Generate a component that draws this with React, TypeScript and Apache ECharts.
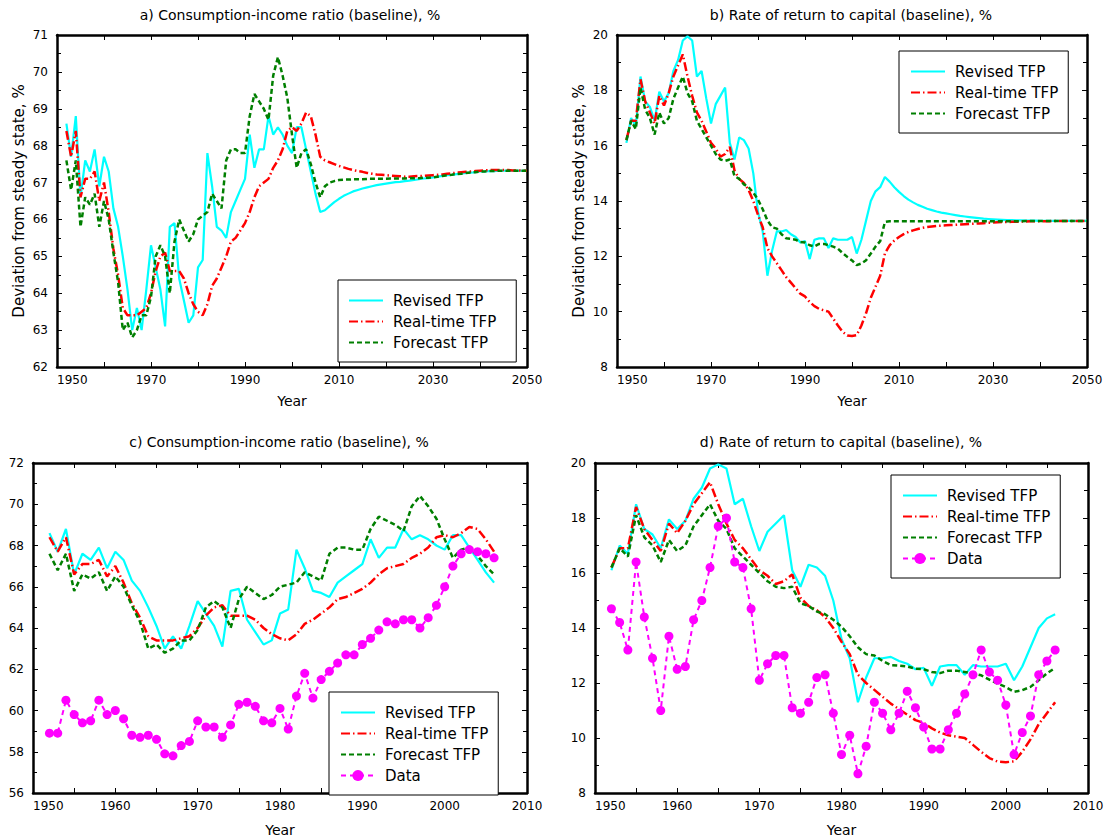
import React, { useEffect, useRef } from "react";
import * as echarts from "echarts";

// ---------- data ----------
const START_YEAR = 1952; // first observation; historical series run to 2006, projections 2007-2050

// Consumption-income ratio, 1952-2006
const revisedCI = [68.6, 67.7, 68.8, 66.6, 67.6, 67.3, 67.9, 66.9, 67.7, 67.3,
  66.3, 65.8, 65.0, 64.1, 63.0, 63.6, 63.0, 64.1, 65.3, 64.7,
  64.1, 63.1, 65.8, 65.9, 64.4, 63.8, 63.2, 63.4, 64.7, 64.9,
  67.8, 66.9, 65.8, 65.7, 65.5, 66.2, 66.5, 66.8, 67.1, 68.3,
  67.4, 67.9, 67.9, 68.8, 68.3, 68.5, 68.3, 68.0, 67.8, 68.5,
  68.5, 67.9, 67.3, 66.7, 66.2];
const realtimeCI = [68.4, 67.7, 68.4, 66.6, 67.1, 67.1, 67.3, 66.5, 67.0, 66.2,
  65.2, 64.5, 63.6, 63.4, 63.4, 63.4, 63.5, 63.6, 64.0, 64.6,
  65.0, 65.1, 64.6, 64.6, 64.6, 64.4, 64.0, 63.7, 63.5, 63.4,
  63.7, 64.2, 64.4, 64.7, 65.0, 65.4, 65.5, 65.7, 65.9, 66.2,
  66.6, 66.9, 67.0, 67.1, 67.4, 67.6, 67.9, 68.4, 68.5, 68.4,
  68.6, 68.9, 68.8, 68.3, 67.7];
const forecastCI = [67.6, 66.8, 67.6, 65.8, 66.6, 66.4, 66.7, 65.8, 66.5, 66.0,
  65.1, 64.3, 63.0, 63.2, 62.8, 63.0, 63.4, 63.4, 63.9, 65.0,
  65.3, 65.0, 64.0, 65.4, 66.0, 65.7, 65.4, 65.6, 66.0, 66.1,
  66.2, 66.7, 66.5, 66.3, 67.6, 67.9, 67.9, 67.8, 67.8, 68.8,
  69.4, 69.2, 69.0, 68.7, 69.9, 70.4, 69.9, 69.3, 68.3, 67.4,
  67.8, 67.9, 67.5, 67.0, 66.6];
const dataCI = [58.9, 58.9, 60.5, 59.8, 59.4, 59.5, 60.5, 59.8, 60.0, 59.6,
  58.8, 58.7, 58.8, 58.6, 57.9, 57.8, 58.3, 58.5, 59.5, 59.2,
  59.2, 58.7, 59.3, 60.3, 60.4, 60.2, 59.5, 59.4, 60.1, 59.1,
  60.7, 61.8, 60.6, 61.5, 61.9, 62.3, 62.7, 62.7, 63.2, 63.5,
  63.9, 64.3, 64.2, 64.4, 64.4, 64.0, 64.5, 65.1, 66.0, 67.0,
  67.6, 67.8, 67.7, 67.6, 67.4];

// Consumption-income ratio projections, 2007-2050
const revisedCIProj = [66.25, 66.36, 66.47, 66.56, 66.64, 66.70, 66.76, 66.80, 66.84, 66.87,
  66.90, 66.93, 66.95, 66.97, 66.99, 67.01, 67.02, 67.04, 67.05, 67.07,
  67.09, 67.11, 67.12, 67.14, 67.16, 67.18, 67.20, 67.21, 67.23, 67.24,
  67.26, 67.27, 67.28, 67.30, 67.30, 67.31, 67.31, 67.32, 67.32, 67.32,
  67.32, 67.32, 67.32, 67.32];
const realtimeCIProj = [67.60, 67.55, 67.50, 67.45, 67.41, 67.37, 67.34, 67.31, 67.29, 67.26,
  67.24, 67.22, 67.21, 67.20, 67.19, 67.18, 67.17, 67.16, 67.16, 67.17,
  67.18, 67.18, 67.19, 67.20, 67.21, 67.22, 67.24, 67.25, 67.27, 67.28,
  67.29, 67.30, 67.31, 67.32, 67.33, 67.34, 67.34, 67.34, 67.34, 67.34,
  67.33, 67.33, 67.32, 67.32];
const forecastCIProj = [66.90, 67.00, 67.04, 67.07, 67.08, 67.08, 67.09, 67.09, 67.09, 67.10,
  67.10, 67.10, 67.10, 67.10, 67.11, 67.11, 67.11, 67.11, 67.12, 67.12,
  67.12, 67.13, 67.13, 67.14, 67.16, 67.18, 67.20, 67.21, 67.23, 67.24,
  67.26, 67.27, 67.28, 67.30, 67.30, 67.31, 67.31, 67.32, 67.32, 67.32,
  67.32, 67.32, 67.32, 67.32];

// Rate of return to capital, 1952-2006
const revisedRR = [16.1, 17.0, 16.7, 18.5, 17.6, 17.4, 16.9, 17.95, 17.6, 17.9,
  18.7, 19.1, 19.8, 19.95, 19.8, 18.5, 18.7, 17.7, 16.8, 17.5,
  17.8, 18.1, 16.1, 15.5, 16.3, 16.2, 15.9, 15.0, 13.6, 12.9,
  11.3, 12.2, 12.9, 12.9, 12.95, 12.8, 12.7, 12.5, 12.55, 11.9,
  12.6, 12.65, 12.65, 12.3, 12.65, 12.6, 12.6, 12.6, 12.7, 12.1,
  12.6, 13.3, 14.0, 14.35, 14.5];
const realtimeRR = [16.2, 16.9, 16.9, 18.4, 17.6, 17.2, 16.8, 17.8, 17.45, 17.9,
  18.5, 18.9, 19.3, 18.5, 17.8, 17.2, 16.9, 16.5, 16.1, 15.9,
  15.6, 15.7, 15.95, 15.1, 14.8, 14.65, 14.4, 14.0, 13.5, 13.05,
  12.3, 12.0, 11.75, 11.5, 11.25, 11.05, 10.85, 10.65, 10.55, 10.35,
  10.2, 10.1, 10.05, 10.0, 9.75, 9.5, 9.27, 9.14, 9.12, 9.15,
  9.5, 9.95, 10.5, 10.9, 11.3];
const forecastRR = [16.2, 16.9, 16.6, 18.1, 17.3, 17.0, 16.4, 17.2, 16.8, 17.0,
  17.7, 18.1, 18.5, 17.9, 17.6, 16.9, 16.6, 16.3, 16.0, 15.7,
  15.5, 15.45, 15.5, 14.9, 14.8, 14.6, 14.5, 14.3, 14.05, 13.7,
  13.3, 13.05, 13.0, 12.8, 12.65, 12.63, 12.6, 12.52, 12.5, 12.4,
  12.36, 12.45, 12.45, 12.4, 12.35, 12.28, 12.12, 11.98, 11.85, 11.68,
  11.74, 11.86, 12.1, 12.35, 12.55];
const dataRR = [14.7, 14.2, 13.2, 16.4, 14.4, 12.9, 11.0, 13.7, 12.5, 12.6,
  14.3, 15.0, 16.2, 17.7, 18.0, 16.4, 16.2, 14.7, 12.1, 12.7,
  13.0, 13.0, 11.1, 10.9, 11.3, 12.2, 12.3, 10.9, 9.4, 10.1,
  8.7, 9.7, 11.3, 10.9, 10.3, 10.9, 11.7, 11.1, 10.4, 9.6,
  9.6, 10.3, 10.9, 11.6, 12.3, 13.2, 12.4, 12.1, 11.2, 9.4,
  10.2, 10.8, 12.3, 12.8, 13.2];

// Rate of return projections, 2007-2050
const revisedRRProj = [14.87, 14.70, 14.50, 14.33, 14.18, 14.05, 13.95, 13.86, 13.79, 13.72,
  13.67, 13.62, 13.58, 13.55, 13.52, 13.49, 13.46, 13.44, 13.42, 13.40,
  13.38, 13.36, 13.35, 13.34, 13.33, 13.32, 13.31, 13.31, 13.30, 13.30,
  13.29, 13.29, 13.29, 13.28, 13.28, 13.28, 13.28, 13.28, 13.28, 13.28,
  13.28, 13.28, 13.28, 13.28];
const realtimeRRProj = [12.10, 12.40, 12.57, 12.70, 12.80, 12.88, 12.94, 12.99, 13.03, 13.06,
  13.08, 13.10, 13.11, 13.12, 13.13, 13.14, 13.15, 13.16, 13.17, 13.18,
  13.19, 13.20, 13.21, 13.22, 13.23, 13.24, 13.24, 13.25, 13.25, 13.26,
  13.26, 13.27, 13.27, 13.27, 13.27, 13.27, 13.28, 13.28, 13.28, 13.28,
  13.28, 13.28, 13.28, 13.28];
const forecastRRProj = [13.24, 13.27, 13.27, 13.27, 13.27, 13.27, 13.27, 13.27, 13.27, 13.27,
  13.27, 13.27, 13.27, 13.27, 13.27, 13.27, 13.27, 13.27, 13.27, 13.27,
  13.27, 13.27, 13.27, 13.27, 13.27, 13.27, 13.27, 13.27, 13.27, 13.27,
  13.28, 13.28, 13.28, 13.28, 13.28, 13.28, 13.28, 13.28, 13.28, 13.28,
  13.28, 13.28, 13.28, 13.28];

const TITLES = [
  "a) Consumption-income ratio (baseline), %",
  "b) Rate of return to capital (baseline), %",
  "c) Consumption-income ratio (baseline), %",
  "d) Rate of return to capital (baseline), %",
];
const SERIES_NAMES = ["Revised TFP", "Real-time TFP", "Forecast TFP", "Data"];
const Y_NAME = "Deviation from steady state, %";
const X_NAME = "Year";

// ---------- styling ----------
const FONT = "DejaVu Sans";
const CYAN = "#00ffff";
const RED = "#ff0000";
const GREEN = "#007f00";
const MAGENTA = "#ff00ff";

const pairs = (vals: number[]) => vals.map((v, i) => [START_YEAR + i, v]);

type Panel = {
  grid: { left: number; top: number; width: number; height: number };
  xMin: number; xMax: number; xInt: number; xLabelEvery: number;
  yMin: number; yMax: number; yInt: number;
  yName: boolean; xNameGap: number;
  legend: { left: number; top: number; padLeft: number; padRight: number };
  series: { revised: number[]; realtime: number[]; forecast: number[]; data?: number[] };
  title: { x: number; y: number };
};

const panels: Panel[] = [
  {
    grid: { left: 57, top: 35, width: 470, height: 332 },
    xMin: 1950, xMax: 2050, xInt: 10, xLabelEvery: 20,
    yMin: 62, yMax: 71, yInt: 1, yName: true, xNameGap: 27,
    legend: { left: 338, top: 280, padLeft: 10, padRight: 20 },
    series: {
      revised: [...revisedCI, ...revisedCIProj],
      realtime: [...realtimeCI, ...realtimeCIProj],
      forecast: [...forecastCI, ...forecastCIProj],
    },
    title: { x: 290, y: 15 },
  },
  {
    grid: { left: 617, top: 35, width: 470, height: 332 },
    xMin: 1950, xMax: 2050, xInt: 10, xLabelEvery: 20,
    yMin: 8, yMax: 20, yInt: 2, yName: true, xNameGap: 27,
    legend: { left: 899, top: 51, padLeft: 11, padRight: 10 },
    series: {
      revised: [...revisedRR, ...revisedRRProj],
      realtime: [...realtimeRR, ...realtimeRRProj],
      forecast: [...forecastRR, ...forecastRRProj],
    },
    title: { x: 851, y: 15 },
  },
  {
    grid: { left: 33, top: 463, width: 494, height: 330 },
    xMin: 1950, xMax: 2010, xInt: 5, xLabelEvery: 10,
    yMin: 56, yMax: 72, yInt: 2, yName: false, xNameGap: 30,
    legend: { left: 329, top: 692, padLeft: 11, padRight: 10 },
    series: { revised: revisedCI, realtime: realtimeCI, forecast: forecastCI, data: dataCI },
    title: { x: 279, y: 442 },
  },
  {
    grid: { left: 595, top: 463, width: 493, height: 330 },
    xMin: 1950, xMax: 2010, xInt: 5, xLabelEvery: 10,
    yMin: 8, yMax: 20, yInt: 2, yName: false, xNameGap: 30,
    legend: { left: 891, top: 475, padLeft: 11, padRight: 10 },
    series: { revised: revisedRR, realtime: realtimeRR, forecast: forecastRR, data: dataRR },
    title: { x: 841, y: 442 },
  },
];

function buildOption() {
  const grid: any[] = [];
  const xAxis: any[] = [];
  const yAxis: any[] = [];
  const series: any[] = [];
  const legend: any[] = [];
  const graphic: any[] = [];

  const frameLine = { show: true, onZero: false, lineStyle: { color: "#000", width: 2.5 } };
  const tick = { show: true, inside: true, length: 5, lineStyle: { color: "#000", width: 1 } };
  const minor = { show: true, splitNumber: 2, length: 4, lineStyle: { color: "#000", width: 1 } };
  const labelStyle = { color: "#000", fontFamily: FONT, fontSize: 12 };

  panels.forEach((p, i) => {
    grid.push({ ...p.grid, containLabel: false });
    const every = p.xLabelEvery;
    const x0 = p.xMin;
    xAxis.push({
      gridIndex: i, type: "value", position: "bottom", min: p.xMin, max: p.xMax, interval: p.xInt,
      axisLine: frameLine, axisTick: tick, splitLine: { show: false },
      axisLabel: {
        ...labelStyle, margin: 7, alignMinLabel: "left",
        formatter: (v: number) => ((v - x0) % every === 0 ? String(v) : ""),
      },
      name: X_NAME, nameLocation: "middle", nameGap: p.xNameGap,
      nameTextStyle: { color: "#000", fontFamily: FONT, fontSize: 14 },
    });
    xAxis.push({
      gridIndex: i, type: "value", position: "top", min: p.xMin, max: p.xMax, interval: p.xInt,
      axisLine: frameLine, axisTick: tick, splitLine: { show: false }, axisLabel: { show: false },
    });
    yAxis.push({
      gridIndex: i, type: "value", position: "left", min: p.yMin, max: p.yMax, interval: p.yInt,
      axisLine: frameLine, axisTick: tick, minorTick: minor, splitLine: { show: false },
      minorSplitLine: { show: false },
      axisLabel: { ...labelStyle, margin: 9 },
      ...(p.yName
        ? {
            name: Y_NAME, nameLocation: "middle", nameGap: 31,
            nameTextStyle: { color: "#000", fontFamily: FONT, fontSize: 15 },
          }
        : {}),
    });
    yAxis.push({
      gridIndex: i, type: "value", position: "right", min: p.yMin, max: p.yMax, interval: p.yInt,
      axisLine: frameLine, axisTick: tick, minorTick: minor, splitLine: { show: false },
      minorSplitLine: { show: false }, axisLabel: { show: false },
    });

    const xi = i * 2;
    const yi = i * 2;
    series.push({
      name: SERIES_NAMES[0], type: "line", xAxisIndex: xi, yAxisIndex: yi,
      data: pairs(p.series.revised), symbol: "none",
      lineStyle: { color: CYAN, width: 2.2 }, itemStyle: { color: CYAN },
    });
    series.push({
      name: SERIES_NAMES[1], type: "line", xAxisIndex: xi, yAxisIndex: yi,
      data: pairs(p.series.realtime), symbol: "none",
      lineStyle: { color: RED, width: 2.5, type: [9, 3, 1.5, 3] }, itemStyle: { color: RED },
    });
    series.push({
      name: SERIES_NAMES[2], type: "line", xAxisIndex: xi, yAxisIndex: yi,
      data: pairs(p.series.forecast), symbol: "none",
      lineStyle: { color: GREEN, width: 2.5, type: [5, 3] }, itemStyle: { color: GREEN },
    });
    if (p.series.data) {
      series.push({
        name: SERIES_NAMES[3], type: "line", xAxisIndex: xi, yAxisIndex: yi,
        data: pairs(p.series.data), symbol: "circle", symbolSize: 9, showSymbol: true,
        lineStyle: { color: MAGENTA, width: 2, type: [5, 4] }, itemStyle: { color: MAGENTA },
      });
    }

    const names = p.series.data ? SERIES_NAMES : SERIES_NAMES.slice(0, 3);
    legend.push({
      left: p.legend.left, top: p.legend.top, orient: "vertical",
      data: names.map((n) =>
        n === "Data" ? { name: n } : { name: n, itemStyle: { opacity: 0, borderWidth: 0 } }
      ),
      itemWidth: 34, itemHeight: 14, itemGap: 6,
      padding: [13, p.legend.padRight, 12, p.legend.padLeft],
      borderColor: "#000", borderWidth: 1, backgroundColor: "#fff",
      selectedMode: false,
      textStyle: { color: "#000", fontFamily: FONT, fontSize: 15, width: 108, padding: [0, 0, 0, 5] },
    });

    graphic.push({
      type: "text", x: p.title.x, y: p.title.y, silent: true,
      style: {
        text: TITLES[i], fill: "#000", font: `14px "${FONT}"`,
        align: "center", verticalAlign: "middle",
      },
    });
  });

  return {
    animation: false,
    backgroundColor: "#fff",
    grid, xAxis, yAxis, series, legend, graphic,
  };
}

export default function App() {
  const ref = useRef<HTMLDivElement>(null);
  useEffect(() => {
    document.body.style.margin = "0";
    if (!ref.current) return;
    const chart = echarts.init(ref.current, undefined, { renderer: "svg" });
    chart.setOption(buildOption());
    return () => chart.dispose();
  }, []);
  return (
    <div
      ref={ref}
      style={{ position: "absolute", left: 0, top: 0, width: 1109, height: 840, background: "#fff" }}
    />
  );
}
